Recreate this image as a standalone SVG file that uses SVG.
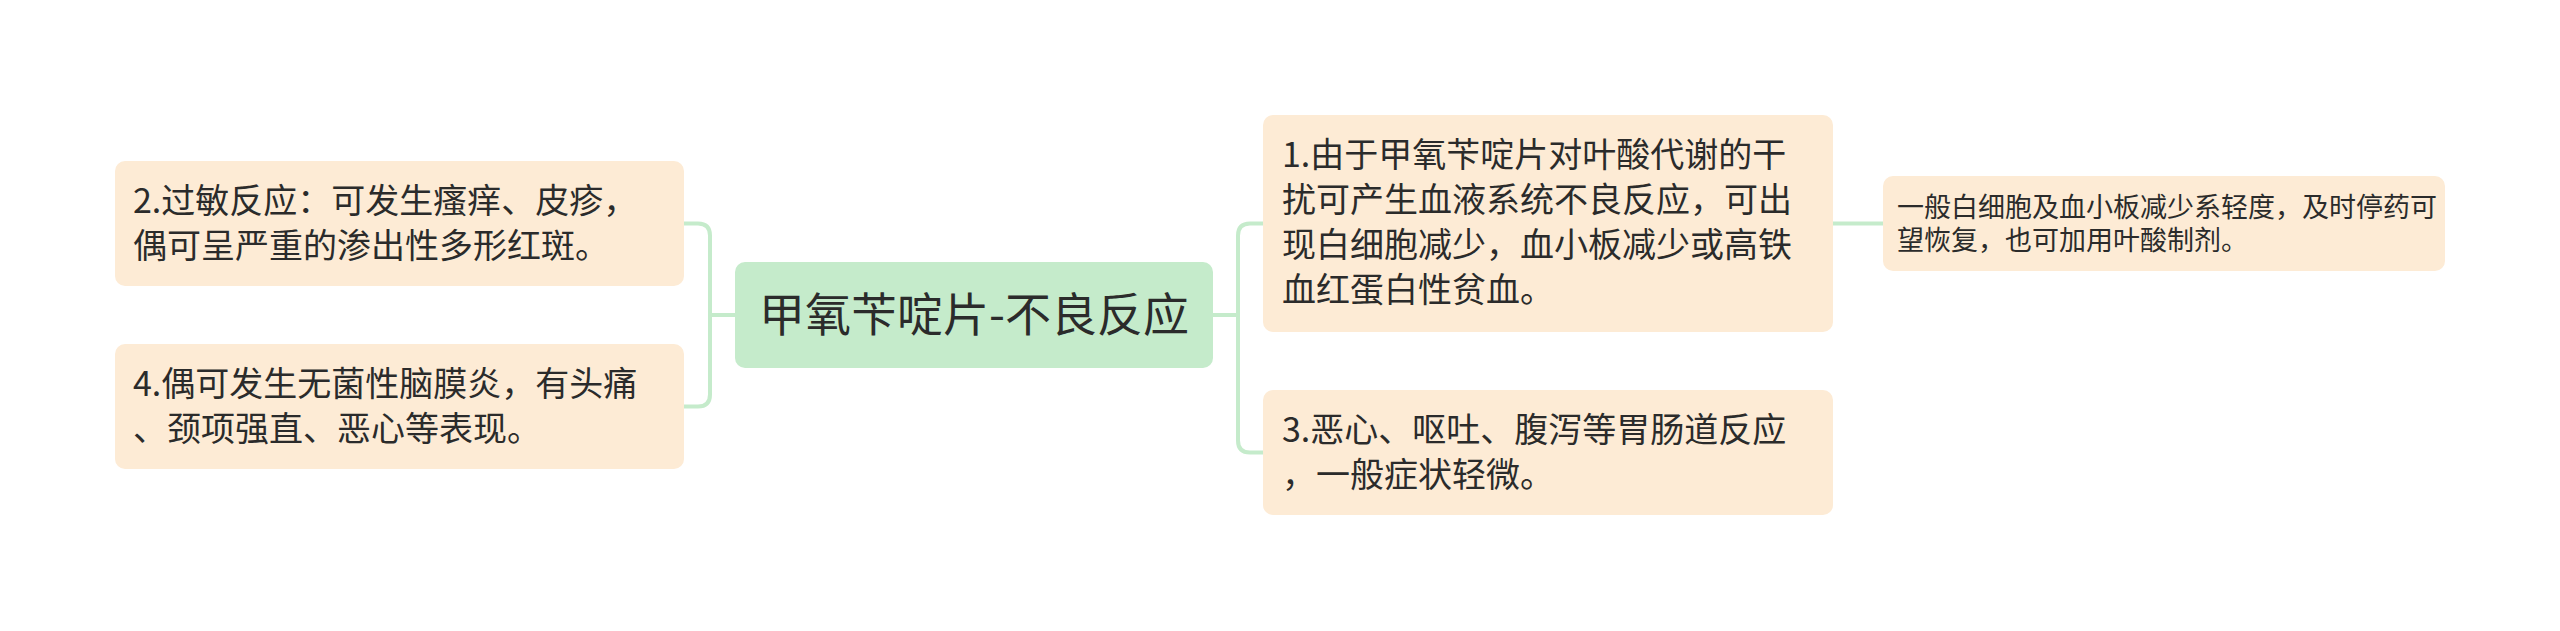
<svg xmlns="http://www.w3.org/2000/svg" width="2560" height="631" viewBox="0 0 2560 631">
<style>
.bg{fill:#ffffff}
.sub{fill:#FDEBD5}
.root{fill:#C5EBCB}
.t{font-family:"Noto Sans CJK SC","Noto Sans",sans-serif;fill:#2b2b2b}
.t34{font-size:34px}
.t27{font-size:27px}
.t46{font-size:46px}
.conn{fill:none;stroke:#C5EBCB;stroke-width:4;stroke-linecap:round}
</style>
<rect class="bg" x="0" y="0" width="2560" height="631"/>
<g id="connectors">
<path class="conn" d="M735 315 H710"/>
<path class="conn" d="M684 223.5 H698 Q710 223.5 710 235.5 V394.5 Q710 406.5 698 406.5 H684"/>
<path class="conn" d="M1213 315 H1238"/>
<path class="conn" d="M1263 223.5 H1250 Q1238 223.5 1238 235.5 V440.5 Q1238 452.5 1250 452.5 H1263"/>
<path class="conn" d="M1833 223.5 H1883"/>
</g>
<g id="root">
<rect class="root" x="735" y="262" width="478" height="106" rx="10"/>
<text class="t t46" x="974" y="331" text-anchor="middle">甲氧苄啶片-不良反应</text>
</g>
<g id="n2">
<rect class="sub" x="115" y="161" width="569" height="125" rx="10"/>
<text class="t t34"><tspan x="133" y="213">2.过敏反应：可发生瘙痒、皮疹，</tspan><tspan x="133" y="258">偶可呈严重的渗出性多形红斑。</tspan></text>
</g>
<g id="n4">
<rect class="sub" x="115" y="344" width="569" height="125" rx="10"/>
<text class="t t34"><tspan x="133" y="396">4.偶可发生无菌性脑膜炎，有头痛</tspan><tspan x="133" y="441">、颈项强直、恶心等表现。</tspan></text>
</g>
<g id="n1">
<rect class="sub" x="1263" y="115" width="570" height="217" rx="10"/>
<text class="t t34"><tspan x="1282" y="167">1.由于甲氧苄啶片对叶酸代谢的干</tspan><tspan x="1282" y="212">扰可产生血液系统不良反应，可出</tspan><tspan x="1282" y="257">现白细胞减少，血小板减少或高铁</tspan><tspan x="1282" y="302">血红蛋白性贫血。</tspan></text>
</g>
<g id="n3">
<rect class="sub" x="1263" y="390" width="570" height="125" rx="10"/>
<text class="t t34"><tspan x="1282" y="442">3.恶心、呕吐、腹泻等胃肠道反应</tspan><tspan x="1282" y="487">，一般症状轻微。</tspan></text>
</g>
<g id="n1a">
<rect class="sub" x="1883" y="176" width="562" height="95" rx="10"/>
<text class="t t27"><tspan x="1897" y="217">一般白细胞及血小板减少系轻度，及时停药可</tspan><tspan x="1897" y="250">望恢复，也可加用叶酸制剂。</tspan></text>
</g>
</svg>
